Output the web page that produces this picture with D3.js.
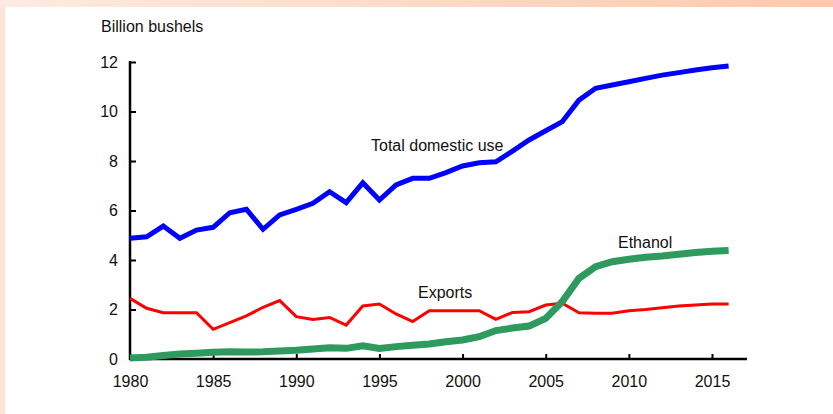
<!DOCTYPE html>
<html>
<head>
<meta charset="utf-8">
<script src="https://cdn.jsdelivr.net/npm/d3@7"></script>
<style>
  html, body { margin: 0; padding: 0; background: #fff; }
  svg { display: block; }
  text { font-family: "Liberation Sans", Arial, sans-serif; fill: #111; }
</style>
</head>
<body>
<svg id="chart"></svg>
<script>
// data, billion bushels
const years = d3.range(1980, 2017);
const domesticUse = [4.88, 4.94, 5.37, 4.88, 5.21, 5.32, 5.91, 6.05, 5.24, 5.82,
  6.05, 6.29, 6.76, 6.32, 7.12, 6.42, 7.03, 7.30, 7.30, 7.53,
  7.80, 7.93, 7.97, 8.40, 8.85, 9.22, 9.59, 10.46, 10.94, 11.07,
  11.20, 11.34, 11.47, 11.57, 11.68, 11.77, 11.84];
const exportsData = [2.45, 2.05, 1.87, 1.87, 1.87, 1.20, 1.47, 1.74, 2.09, 2.36,
  1.71, 1.60, 1.68, 1.37, 2.14, 2.22, 1.82, 1.51, 1.95, 1.95,
  1.95, 1.95, 1.60, 1.88, 1.91, 2.18, 2.25, 1.87, 1.85, 1.85,
  1.95, 2.00, 2.07, 2.14, 2.18, 2.22, 2.22];
const ethanol = [0.04, 0.07, 0.14, 0.20, 0.23, 0.27, 0.29, 0.28, 0.29, 0.32,
  0.35, 0.40, 0.45, 0.43, 0.53, 0.43, 0.50, 0.56, 0.61, 0.70,
  0.77, 0.90, 1.15, 1.25, 1.33, 1.64, 2.32, 3.26, 3.73, 3.93,
  4.03, 4.11, 4.16, 4.23, 4.30, 4.35, 4.38];
const yTicks = [0, 2, 4, 6, 8, 10, 12];
const xTicks = [1980, 1985, 1990, 1995, 2000, 2005, 2010, 2015];

const width = 833, height = 414;
const svg = d3.select("#chart").attr("width", width).attr("height", height);

// peach frame at top and left edge
const defs = svg.append("defs");
const grad = defs.append("linearGradient").attr("id", "band");
grad.append("stop").attr("offset", "0%").attr("stop-color", "#fdebe2");
grad.append("stop").attr("offset", "100%").attr("stop-color", "#ffc9aa");
svg.append("rect").attr("x", 0).attr("y", 0).attr("width", width).attr("height", 7).attr("fill", "url(#band)");
svg.append("rect").attr("x", 0).attr("y", 7).attr("width", 5).attr("height", height - 7).attr("fill", "#fde3d8");

const x = d3.scaleLinear().domain([1980, 2015]).range([130, 712]);
const y = d3.scaleLinear().domain([0, 12]).range([359, 62]);

// axes
svg.append("g")
  .attr("transform", "translate(130,0)")
  .call(d3.axisLeft(y).tickValues(yTicks).tickSize(-6).tickPadding(12).tickFormat(d3.format("d")))
  .call(g => g.select(".domain").remove())
  .call(g => g.selectAll(".tick line").attr("stroke", "#000").attr("stroke-width", 2))
  .call(g => g.selectAll("text").style("font-size", "16px").attr("fill", "#111"));

svg.append("line")
  .attr("x1", 130).attr("x2", 130).attr("y1", y(12) - 1).attr("y2", y(0) + 1)
  .attr("stroke", "#000").attr("stroke-width", 2.5);

svg.append("g")
  .attr("transform", `translate(0,${y(0)})`)
  .call(d3.axisBottom(x).tickValues(xTicks).tickSize(-5).tickPadding(17).tickFormat(d3.format("d")))
  .call(g => g.select(".domain").remove())
  .call(g => g.selectAll(".tick line").attr("stroke", "#000").attr("stroke-width", 2))
  .call(g => g.selectAll("text").style("font-size", "16px").attr("fill", "#111"));

svg.append("line")
  .attr("x1", 129).attr("x2", 747).attr("y1", y(0)).attr("y2", y(0))
  .attr("stroke", "#000").attr("stroke-width", 2.5);

const line = d3.line().x((d, i) => x(years[i])).y(d => y(d));

svg.append("path").datum(exportsData)
  .attr("d", line).attr("fill", "none")
  .attr("stroke", "#ff0000").attr("stroke-width", 3);

svg.append("path").datum(ethanol)
  .attr("d", line).attr("fill", "none")
  .attr("stroke", "#2e9a5e").attr("stroke-width", 7);

svg.append("path").datum(domesticUse)
  .attr("d", line).attr("fill", "none")
  .attr("stroke", "#0000ff").attr("stroke-width", 5);

// labels
svg.append("text").attr("x", 101).attr("y", 32).style("font-size", "16px").text("Billion bushels");
svg.append("text").attr("x", 371).attr("y", 151).style("font-size", "16px").text("Total domestic use");
svg.append("text").attr("x", 418).attr("y", 298).style("font-size", "16px").text("Exports");
svg.append("text").attr("x", 618).attr("y", 248).style("font-size", "16px").text("Ethanol");
</script>
</body>
</html>
